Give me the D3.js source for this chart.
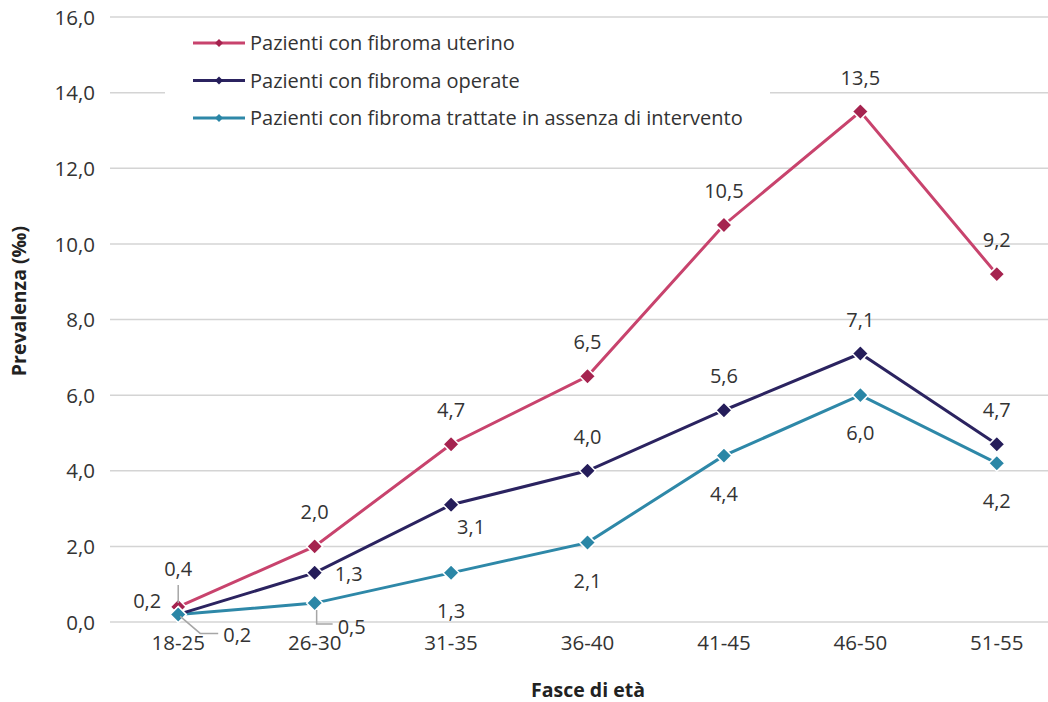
<!DOCTYPE html>
<meta charset="utf-8">
<style>
body { margin: 0; background: #fff; }
text { font-family: "Open Sans", sans-serif; fill: #333; }
.tick text { font-size: 20.5px; }
.lbl { font-size: 20px; }
.legend text { font-size: 20px; }
.title { font-size: 19.5px; font-weight: bold; fill: #222; }
</style>
<svg width="1048" height="702"></svg>
<script src="https://d3js.org/d3.v7.min.js"></script>
<script>

// categories and values
var ageGroups = ["18-25", "26-30", "31-35", "36-40", "41-45", "46-50", "51-55"];
var uterino   = [0.4, 2.0, 4.7, 6.5, 10.5, 13.5, 9.2];
var operate   = [0.2, 1.3, 3.1, 4.0, 5.6, 7.1, 4.7];
var trattate  = [0.2, 0.5, 1.3, 2.1, 4.4, 6.0, 4.2];
var yTicks    = [0, 2, 4, 6, 8, 10, 12, 14, 16];
var seriesNames = [
  "Pazienti con fibroma uterino",
  "Pazienti con fibroma operate",
  "Pazienti con fibroma trattate in assenza di intervento"
];

// label placement per point (layout, not data)
var placeUterino  = ["leadUp", "above", "above", "above", "above", "above", "above"];
var placeOperate  = ["left", "right", "belowRight", "above", "above", "above", "above"];
var placeTrattate = ["leadRight", "leadDown", "below", "below", "below", "below", "below"];

var series = [
  {name: seriesNames[0], values: uterino, place: placeUterino, line: "#c8436d", mark: "#a5234f"},
  {name: seriesNames[1], values: operate, place: placeOperate, line: "#2b2360", mark: "#251d5a"},
  {name: seriesNames[2], values: trattate, place: placeTrattate, line: "#2e88a8", mark: "#2a86a6"}
];

var svg = d3.select("svg"),
    plotLeft = 110, plotRight = 1065, plotTop = 17, plotBottom = 622;

var x = d3.scaleBand().domain(ageGroups).range([plotLeft, plotRight]);
var y = d3.scaleLinear().domain([0, 16]).range([plotBottom, plotTop]);
var fmt = function(v) { return d3.format(".1f")(v).replace(".", ","); };
var cx = function(i) { return x(ageGroups[i]) + x.bandwidth() / 2; };

// gridlines
svg.append("g").selectAll("line").data(yTicks).join("line")
    .attr("x1", plotLeft).attr("x2", plotRight)
    .attr("y1", d => y(d)).attr("y2", d => y(d))
    .attr("stroke", "#d4d4d4").attr("stroke-width", 1.5);

// y axis labels
var yAxis = svg.append("g").attr("transform", "translate(" + (plotLeft - 15) + ",0)")
    .call(d3.axisLeft(y).tickValues(yTicks).tickFormat(fmt).tickSize(0).tickPadding(0));
yAxis.select(".domain").remove();
yAxis.selectAll("text").attr("fill", "#333").attr("dy", "0.35em");

// x axis labels
var xAxis = svg.append("g").attr("transform", "translate(0," + plotBottom + ")")
    .call(d3.axisBottom(x).tickSize(0).tickPadding(13));
xAxis.select(".domain").remove();
xAxis.selectAll("text").attr("fill", "#333");

// axis titles
svg.append("text").attr("class", "title")
    .attr("x", 588).attr("y", 697)
    .attr("text-anchor", "middle").text("Fasce di età");
svg.append("text").attr("class", "title")
    .attr("transform", "translate(26,301) rotate(-90)")
    .attr("text-anchor", "middle").text("Prevalenza (‰)");

// legend (white box hides gridline)
var legend = svg.append("g").attr("class", "legend");
legend.append("rect").attr("x", 165).attr("y", 24).attr("width", 605).attr("height", 114).attr("fill", "#fff");
var legRow = legend.selectAll("g").data(series).join("g")
    .attr("transform", (d, i) => "translate(193," + (43 + i * 37.5) + ")");
legRow.append("line").attr("x1", 0).attr("x2", 52)
    .attr("stroke", d => d.line).attr("stroke-width", 3);
legRow.append("path").attr("d", "M0,-4L4,0L0,4L-4,0Z")
    .attr("transform", "translate(26,0)").attr("fill", d => d.mark);
legRow.append("text").attr("x", 57).attr("dy", "0.35em").text(d => d.name);

var line = d3.line().x((d, i) => cx(i)).y(d => y(d));

// draw from the bottom series up so the top series sits above
var drawOrder = [series[2], series[1], series[0]];

var g = svg.append("g");
g.selectAll("path.s").data(drawOrder).join("path")
    .attr("class", "s")
    .attr("d", d => line(d.values))
    .attr("fill", "none").attr("stroke", d => d.line).attr("stroke-width", 3);

// markers; the teal ones go last, as the reference shows them on top at 18-25
series.forEach(function(s) {
  g.append("g").selectAll("path").data(s.values).join("path")
      .attr("d", "M0,-8L8,0L0,8L-8,0Z")
      .attr("transform", (d, i) => "translate(" + cx(i) + "," + y(d) + ")")
      .attr("fill", s.mark).attr("stroke", "#fff").attr("stroke-width", 1.5);
});

// data labels with leader lines
var labels = svg.append("g");
function leader(d) {
  labels.append("path").attr("d", d)
      .attr("stroke", "#a6a6a6").attr("stroke-width", 1.5).attr("fill", "none");
}
series.forEach(function(s) {
  s.values.forEach(function(v, i) {
    var px = cx(i), py = y(v), p = s.place[i];
    var tx = px, ty = py - 27, anchor = "middle";
    if (p === "below") { ty = py + 45; }
    else if (p === "belowRight") { tx = px + 20; ty = py + 29; }
    else if (p === "right") { tx = px + 20; ty = py + 8; anchor = "start"; }
    else if (p === "left") { tx = px - 17; ty = py - 6; anchor = "end"; }
    else if (p === "leadUp") {
      ty = py - 31;
      leader("M" + px + "," + (py - 22) + "V" + (py - 4));
    }
    else if (p === "leadRight") {
      tx = px + 45; ty = py + 28; anchor = "start";
      leader("M" + (px + 2) + "," + (py + 2) + "L" + (px + 22) + "," + (py + 19) + "H" + (px + 40));
    }
    else if (p === "leadDown") {
      tx = px + 23; ty = py + 31; anchor = "start";
      leader("M" + (px + 2) + "," + (py + 7) + "V" + (py + 21) + "H" + (px + 18));
    }
    labels.append("text").attr("class", "lbl")
        .attr("x", tx).attr("y", ty).attr("text-anchor", anchor).text(fmt(v));
  });
});

</script>
